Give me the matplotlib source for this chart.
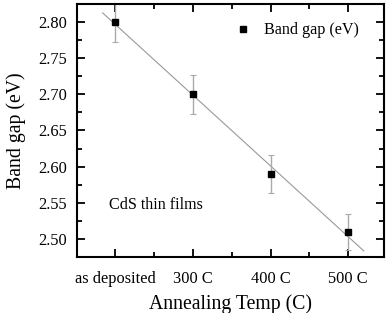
import matplotlib
matplotlib.use("Agg")
import matplotlib.pyplot as plt
import numpy as np
from matplotlib.ticker import MultipleLocator, FormatStrFormatter

plt.rcParams['font.family'] = ['Liberation Serif', 'DejaVu Serif']

# data
temps = ['as deposited', '300 C', '400 C', '500 C']
band_gap = [2.80, 2.70, 2.59, 2.51]
gap_err = [0.028, 0.027, 0.026, 0.025]

x = np.arange(len(temps))

fig = plt.figure(figsize=(3.92, 3.13), dpi=100)
ax = fig.add_axes([77/392, 1 - 257/313, 307/392, 253/313])

# linear fit
slope, icpt = np.polyfit(x, band_gap, 1)
xf = np.array([-0.16, 3.2])
ax.plot(xf, slope*xf + icpt, color='#999999', lw=0.8, zorder=1)

ax.errorbar(x, band_gap, yerr=gap_err, fmt='none', ecolor='#aaaaaa',
            elinewidth=1.0, capsize=2.5, capthick=0.8, zorder=2)
ax.plot(x, band_gap, 's', color='black', ms=4.5, label='Band gap (eV)', zorder=3)

ax.set_xlim(-0.49, 3.46)
ax.set_ylim(2.475, 2.825)
ax.set_xticks(x)
ax.set_xticklabels(temps)
ax.xaxis.set_minor_locator(MultipleLocator(0.5))
ax.yaxis.set_major_locator(MultipleLocator(0.05))
ax.yaxis.set_minor_locator(MultipleLocator(0.025))
ax.yaxis.set_major_formatter(FormatStrFormatter('%.2f'))

ax.tick_params(which='both', direction='in', top=True, right=True, width=1.3,
               labelsize=11.8)
ax.tick_params(axis='x', pad=10)
ax.tick_params(axis='y', pad=7)
ax.tick_params(which='major', length=6)
ax.tick_params(which='minor', length=3.5)
for s in ax.spines.values():
    s.set_linewidth(1.5)

ax.set_xlabel('Annealing Temp (C)', fontsize=14.2, labelpad=5)
ax.set_ylabel('Band gap (eV)', fontsize=14.2, labelpad=9)

ax.legend(loc='upper right', frameon=False, fontsize=11.6, handletextpad=0.7,
          handlelength=1.2, bbox_to_anchor=(0.965, 0.985), numpoints=1)
ax.text(0.105, 0.205, 'CdS thin films', transform=ax.transAxes, fontsize=11.6,
        va='center', ha='left')

fig.savefig('out.png', dpi=100)
